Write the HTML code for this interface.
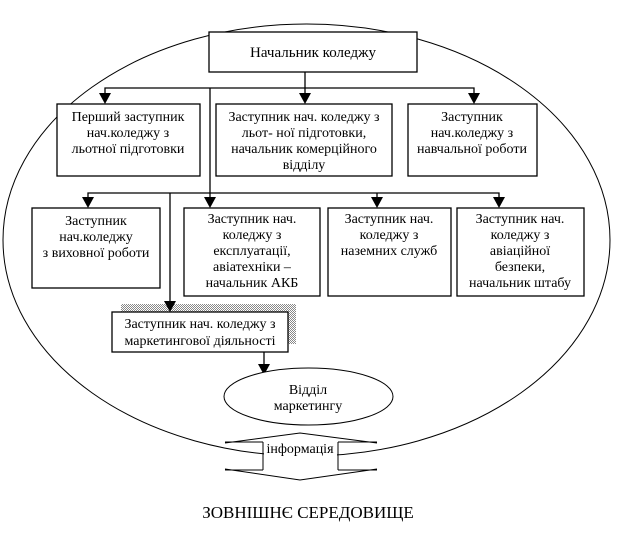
<!DOCTYPE html>
<html><head><meta charset="utf-8"><style>
html,body{margin:0;padding:0;background:#fff;}
svg{display:block;}
text{font-family:"Liberation Serif","DejaVu Serif",serif;font-size:14px;fill:#000;text-anchor:middle;}
</style></head><body>
<svg width="640" height="538" viewBox="0 0 640 538" xmlns="http://www.w3.org/2000/svg">
<defs>
<pattern id="hatch" width="2" height="2" patternUnits="userSpaceOnUse">
<rect width="2" height="2" fill="#fff"/><rect width="1" height="1" fill="#888"/><rect x="1" y="1" width="1" height="1" fill="#888"/>
</pattern>
</defs>
<ellipse cx="306.5" cy="240" rx="303.5" ry="216" fill="none" stroke="#000" stroke-width="1"/>
<g fill="#fff" stroke="#000" stroke-width="1.3">
<rect x="209" y="32" width="208" height="40"/>
<rect x="57" y="104" width="143" height="72"/>
<rect x="216" y="104" width="176" height="72"/>
<rect x="408" y="104" width="129" height="72"/>
<rect x="32" y="208" width="128" height="80"/>
<rect x="184" y="208" width="136" height="88"/>
<rect x="328" y="208" width="123" height="88"/>
<rect x="457" y="208" width="127" height="88"/>
</g>
<rect x="121" y="304" width="175" height="40" fill="url(#hatch)"/>
<rect x="112" y="312" width="176" height="40" fill="#fff" stroke="#000" stroke-width="1.3"/>
<g stroke="#000" stroke-width="1.3" fill="none">
<line x1="305" y1="72" x2="305" y2="88"/>
<polyline points="105,95 105,88 474,88 474,95"/>
<line x1="305" y1="88" x2="305" y2="95"/>
<line x1="210" y1="88" x2="210" y2="199"/>
<polyline points="88,199 88,193 499,193 499,199"/>
<line x1="377" y1="193" x2="377" y2="199"/>
<line x1="170" y1="193" x2="170" y2="303"/>
<line x1="264" y1="352" x2="264" y2="366"/>
</g>
<g fill="#000">
<polygon points="99,93 111,93 105,104"/>
<polygon points="299,93 311,93 305,104"/>
<polygon points="468,93 480,93 474,104"/>
<polygon points="82,197 94,197 88,208"/>
<polygon points="204,197 216,197 210,208"/>
<polygon points="371,197 383,197 377,208"/>
<polygon points="493,197 505,197 499,208"/>
<polygon points="164,301 176,301 170,312"/>
<polygon points="258,364 270,364 264,375"/>
</g>
<ellipse cx="308.5" cy="396.5" rx="84.5" ry="28.5" fill="#fff" stroke="#000" stroke-width="1"/>
<g stroke="#000" stroke-width="1" fill="none">
<polyline points="225,442 263,442"/>
<polyline points="225,443 300,433 377,443"/>
<polyline points="338,442 377,442"/>
<polyline points="225,470 263,470"/>
<polyline points="225,469 300,480 377,469"/>
<polyline points="338,470 377,470"/>
<line x1="263" y1="442" x2="263" y2="470"/>
<line x1="338" y1="442" x2="338" y2="470"/>
</g>
<rect x="264" y="443" width="73" height="26" fill="#fff"/>
<text x="313" y="57" style="font-size:15px">Начальник коледжу</text>
<text x="128" y="121">Перший заступник</text>
<text x="128" y="137">нач.коледжу з</text>
<text x="128" y="153">льотної підготовки</text>
<text x="304" y="121">Заступник  нач. коледжу з</text>
<text x="304" y="137">льот- ної підготовки,</text>
<text x="304" y="153">начальник комерційного</text>
<text x="304" y="169">відділу</text>
<text x="472" y="121">Заступник</text>
<text x="472" y="137">нач.коледжу з</text>
<text x="472" y="153">навчальної роботи</text>
<text x="96" y="225">Заступник</text>
<text x="96" y="241">нач.коледжу</text>
<text x="96" y="257">з виховної роботи</text>
<text x="252" y="223">Заступник нач.</text>
<text x="252" y="239">коледжу з</text>
<text x="252" y="255">експлуатації,</text>
<text x="252" y="271">авіатехніки –</text>
<text x="252" y="287">начальник АКБ</text>
<text x="389" y="223">Заступник нач.</text>
<text x="389" y="239">коледжу з</text>
<text x="389" y="255">наземних служб</text>
<text x="520" y="223">Заступник нач.</text>
<text x="520" y="239">коледжу з</text>
<text x="520" y="255">авіаційної</text>
<text x="520" y="271">безпеки,</text>
<text x="520" y="287">начальник штабу</text>
<text x="200" y="328">Заступник нач. коледжу з</text>
<text x="200" y="345">маркетингової діяльності</text>
<text x="308" y="394">Відділ</text>
<text x="308" y="410">маркетингу</text>
<text x="300" y="453">інформація</text>
<text x="308" y="518" style="font-size:17px">ЗОВНІШНЄ СЕРЕДОВИЩЕ</text>
</svg>
</body></html>
